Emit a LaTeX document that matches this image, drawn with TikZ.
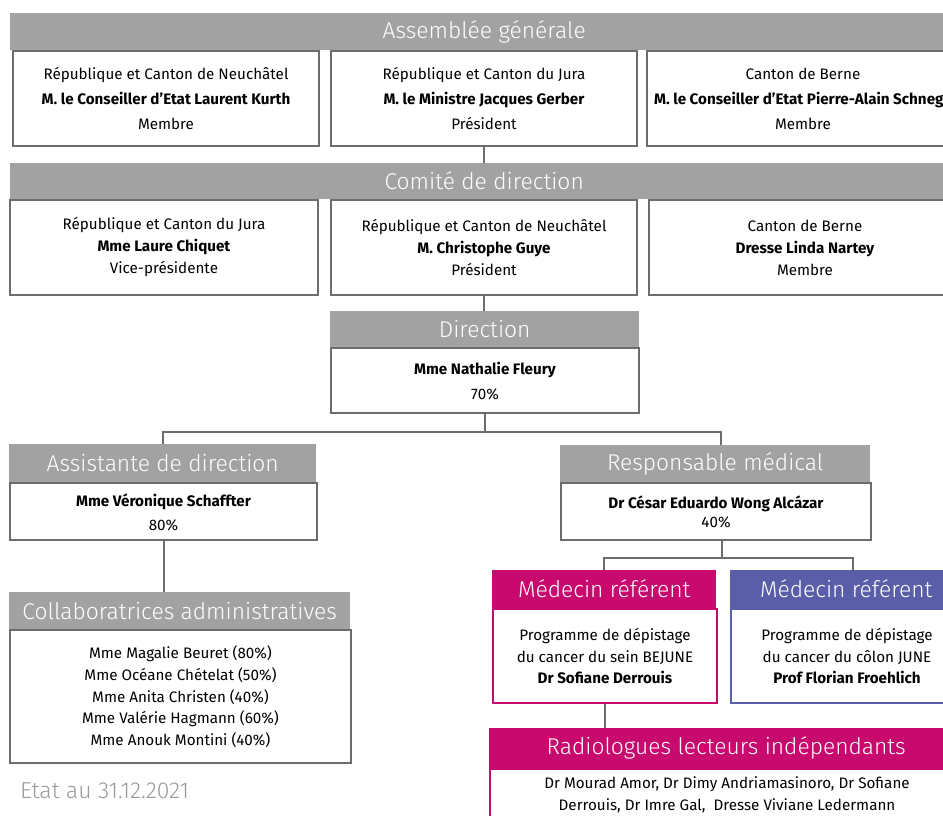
\documentclass[tikz,border=0pt]{standalone}
\usepackage{fontspec}
\setmainfont{Fira Sans}
\newfontfamily\headfont{Fira Sans Light}
\usetikzlibrary{positioning}

\definecolor{headgray}{HTML}{A2A2A2}
\definecolor{linegray}{HTML}{6D6D6D}
\definecolor{sein}{HTML}{C8096E}
\definecolor{colon}{HTML}{5A5EA8}
\definecolor{etatgray}{HTML}{9A9A9A}

\tikzset{
  head/.style={rectangle, fill=headgray, text=white, inner sep=0pt, anchor=north west,
    minimum height=37pt, font=\headfont\fontsize{22.8}{26}\selectfont},
  body/.style={rectangle, draw=linegray, line width=2pt, fill=white, align=center,
    inner sep=0pt, font=\fontsize{15.2}{22}\selectfont},
  link/.style={draw=linegray, line width=2pt},
}

\begin{document}
\begin{tikzpicture}[x=1pt, y=-1pt]
        \useasboundingbox (0,0) rectangle (943,816);
        \clip (0,0) rectangle (943,816);

        % Assemblee generale
        \node[head, minimum width=948pt] (agHead) at (10,13) {Assemblée générale};
        \node[body, anchor=north west, minimum width=306pt, minimum height=95pt,
          font=\fontsize{15.2}{25}\selectfont] (ag1) at (12,50)
          {République et Canton de Neuchâtel\\ \textbf{M. le Conseiller d’Etat Laurent Kurth}\\ Membre};
        \node[body, anchor=north west, minimum width=306pt, minimum height=95pt,
          font=\fontsize{15.2}{25}\selectfont] (ag2) at (330,50)
          {République et Canton du Jura\\ \textbf{M. le Ministre Jacques Gerber}\\ Président};
        \node[body, anchor=north west, minimum width=312pt, minimum height=95pt,
          font=\fontsize{15.2}{25}\selectfont] (ag3) at (646,50)
          {Canton de Berne\\ \textbf{M. le Conseiller d’Etat Pierre-Alain Schnegg}\\ Membre};

        % Comite de direction
        \node[head, minimum width=948pt, minimum height=36pt] (cdHead) at (10,163) {Comité de direction};
        \node[body, anchor=north west, minimum width=308pt, minimum height=95pt] (cd1) at (9,199)
          {République et Canton du Jura\\ \textbf{Mme Laure Chiquet}\\ Vice-présidente};
        \node[body, anchor=north west, minimum width=306pt, minimum height=95pt] (cd2) at (330,199)
          {République et Canton de Neuchâtel\\ \textbf{M. Christophe Guye}\\ Président};
        \node[body, anchor=north west, minimum width=312pt, minimum height=95pt] (cd3) at (648,199)
          {Canton de Berne\\ \textbf{Dresse Linda Nartey}\\ Membre};

        % Direction
        \node[head, minimum width=309pt, minimum height=36pt] (dirHead) at (330,311) {Direction};
        \node[body, below right=0pt and 0pt of dirHead.south west, minimum width=308pt,
          minimum height=65pt, font=\fontsize{15.2}{25}\selectfont] (dir)
          {\textbf{Mme Nathalie Fleury}\\ 70\%};

        % Assistante et responsable
        \node[head, minimum width=307pt, minimum height=38pt] (asstHead) at (9,444) {Assistante de direction};
        \node[body, below right=0pt and 0pt of asstHead.south west, minimum width=307pt,
          minimum height=57pt, font=\fontsize{15.2}{24}\selectfont] (asst)
          {\textbf{Mme Véronique Schaffter}\\ 80\%};
        \node[head, minimum width=310pt] (respHead) at (560,445) {Responsable médical};
        \node[body, below right=0pt and 0pt of respHead.south west, minimum width=310pt,
          minimum height=57pt, font=\fontsize{15.2}{19}\selectfont] (resp)
          {\textbf{Dr César Eduardo Wong Alcázar}\\ 40\%};

        % Collaboratrices
        \node[head, minimum width=341pt] (collabHead) at (9,592) {Collaboratrices administratives};
        \node[body, below right=0pt and 0pt of collabHead.south west, minimum width=341pt,
          minimum height=133pt, font=\fontsize{15.2}{21.7}\selectfont] (collab)
          {Mme Magalie Beuret (80\%)\\ Mme Océane Chételat (50\%)\\ Mme Anita Christen (40\%)\\
           Mme Valérie Hagmann (60\%)\\ Mme Anouk Montini (40\%)};

        % Medecins referents
        \node[head, fill=sein, minimum width=224pt, minimum height=38pt] (medAHead) at (492,570) {Médecin référent};
        \node[body, draw=sein, below right=0pt and 0pt of medAHead.south west, minimum width=224pt,
          minimum height=94pt, font=\fontsize{15.2}{21.5}\selectfont] (medA)
          {Programme de dépistage\\ du cancer du sein BEJUNE\\ \textbf{Dr Sofiane Derrouis}};
        \node[head, fill=colon, minimum width=232pt, minimum height=38pt] (medBHead) at (730,570) {Médecin référent};
        \node[body, draw=colon, below right=0pt and 0pt of medBHead.south west, minimum width=232pt,
          minimum height=94pt, font=\fontsize{15.2}{21.5}\selectfont] (medB)
          {Programme de dépistage\\ du cancer du côlon JUNE\\ \textbf{Prof Florian Froehlich}};

        % Radiologues
        \node[head, fill=sein, minimum width=474pt, minimum height=40pt] (radioHead) at (489,728) {Radiologues lecteurs indépendants};
        \node[body, draw=sein, below right=0pt and 0pt of radioHead.south west, minimum width=474pt,
          minimum height=50pt] (radio)
          {Dr Mourad Amor, Dr Dimy Andriamasinoro, Dr Sofiane\\ Derrouis, Dr Imre Gal,\ \ Dresse Viviane Ledermann};

        \node[anchor=west, inner sep=0pt, text=etatgray, font=\headfont\fontsize{23}{26}\selectfont] (etat)
          at (20,791) {Etat au 31.12.2021};

        % liens
        \draw[link] (ag2.south) -- (ag2.south |- cdHead.north);
        \draw[link] (cd2.south) -- (cd2.south |- dirHead.north);
        \draw[link] (dir.south) -- ++(0,18) coordinate (split) -| (asstHead.north);
        \draw[link] (split) -| ([xshift=6pt]respHead.north);
        \draw[link] (asst.south) -- (asst.south |- collabHead.north);
        \draw[link] ([xshift=6pt]resp.south) -- ++(0,17) coordinate (medSplit) -| (medAHead.north);
        \draw[link] (medSplit) -| ([xshift=7pt]medBHead.north);
        \draw[link] (medA.south) -- (medA.south |- radioHead.north);

    \end{tikzpicture}
\end{document}
